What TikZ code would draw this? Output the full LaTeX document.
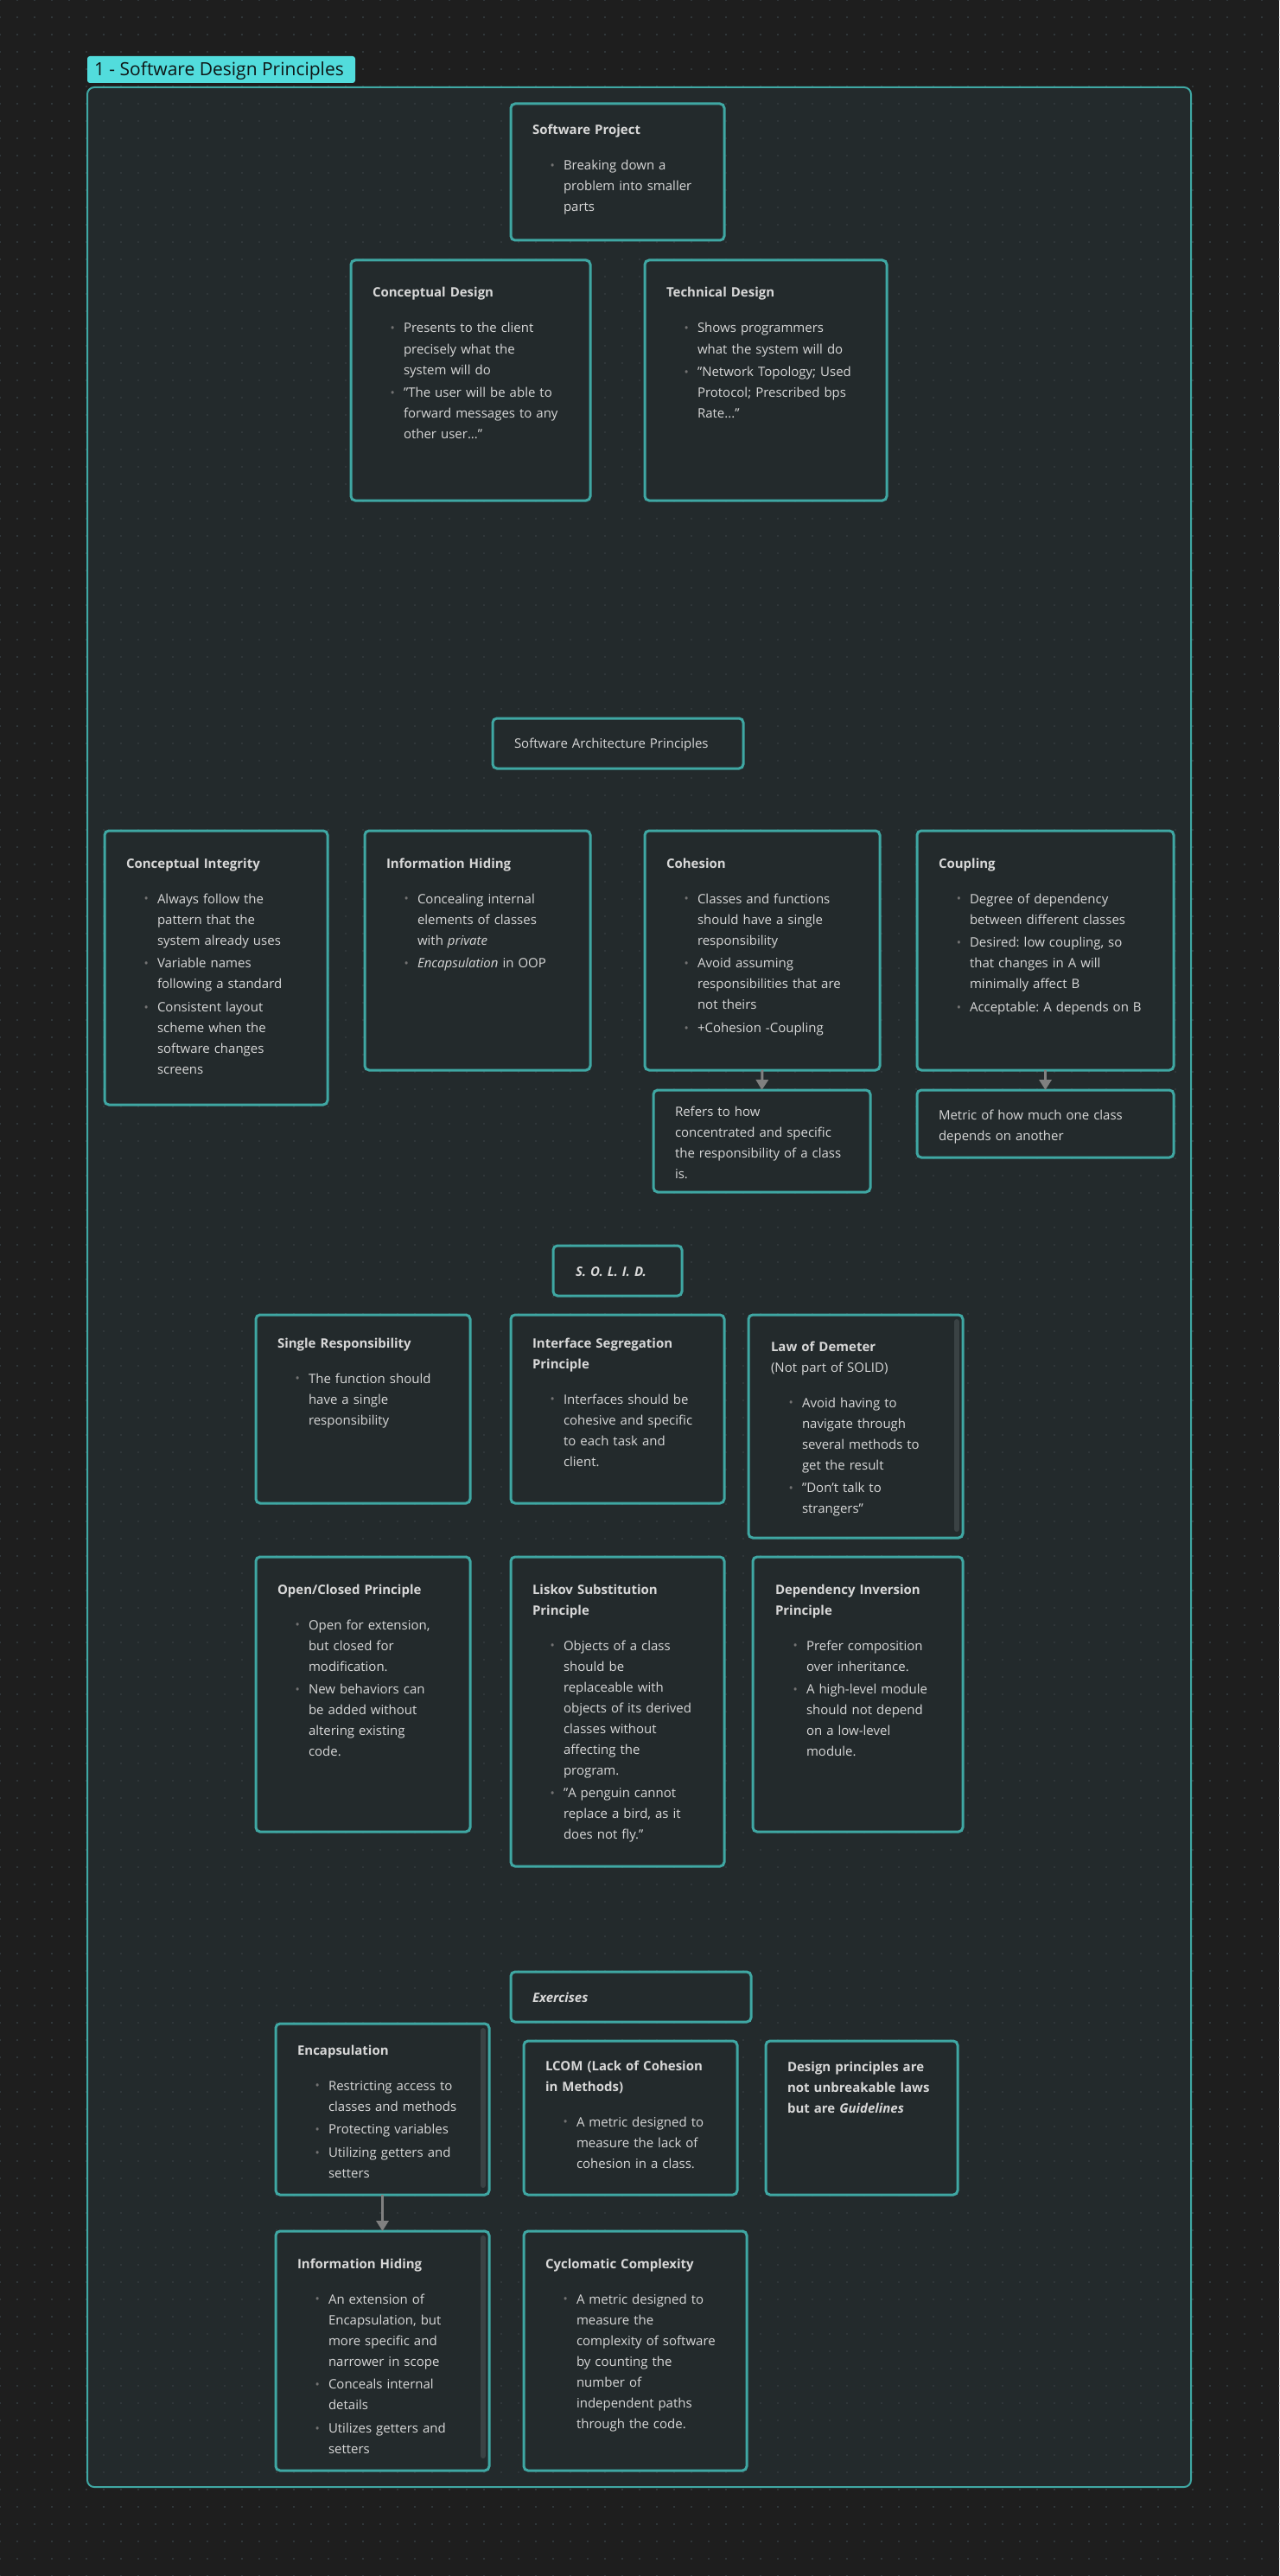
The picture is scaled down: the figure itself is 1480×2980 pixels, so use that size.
\documentclass[tikz,border=0pt]{standalone}
\usepackage{fontspec}
\setmainfont{Open Sans}
\usetikzlibrary{fit,arrows.meta,patterns}

\definecolor{pagebg}{HTML}{1E1E1E}
\definecolor{panelbg}{HTML}{232A2C}
\definecolor{edgeteal}{HTML}{3FA7A3}
\definecolor{tagfill}{HTML}{52DCDC}
\definecolor{tagtext}{HTML}{0E1616}
\definecolor{txt}{HTML}{D8D8D8}
\definecolor{bulletc}{HTML}{727272}
\definecolor{arrowc}{HTML}{808080}
\definecolor{scrollc}{HTML}{3A4244}
\definecolor{dotc}{HTML}{30373A}

\setlength\parindent{0pt}
\setlength\parskip{0pt}
\frenchspacing

% faint dot grid of the canvas
\pgfdeclarepatternformonly{dotgrid}{\pgfpoint{-1pt}{-1pt}}{\pgfpoint{1pt}{1pt}}{\pgfpoint{10pt}{10pt}}%
  {\pgfpathrectangle{\pgfpoint{-0.4pt}{-0.4pt}}{\pgfpoint{0.8pt}{0.8pt}}\pgfusepath{fill}}

% card heading, plain first line, bullet item (lines of an item hang under its text)
\newcommand\cardtitle[1]{\rule{0pt}{9pt}\textbf{#1}\par\vspace{7.1pt}}
\newcommand\firstline{\rule{0pt}{9pt}}
\newcommand\bitem[1]{\par\vspace{1.4pt}%
  {\let\\\newline\hangindent=18pt\hangafter=0\noindent
   \llap{\textcolor{bulletc}{\raisebox{0.3pt}{\fontsize{7}{7}\selectfont\textbullet}}\hspace{5pt}}%
   #1\par}}

\tikzset{
  card/.style={draw=edgeteal, line width=1.5pt, rounded corners=2.5pt, fill=panelbg,
    inner sep=0pt, outer sep=0pt},
  body/.style={anchor=north west, inner sep=0pt, outer sep=0pt, text width=200pt,
    align=left, text=txt, font=\fontsize{7.5}{12}\selectfont},
  conn/.style={draw=arrowc, line width=1.5pt, -{Triangle[width=7pt,length=6pt]}},
  scrollbar/.style={draw=scrollc, line width=3pt, line cap=round},
}

\begin{document}
\begin{tikzpicture}[x=0.5pt,y=-0.5pt]
\useasboundingbox (0,0) rectangle (1480,2980);
\fill[pagebg] (0,0) rectangle (1480,2980);

% group panel
\fill[panelbg, rounded corners=4pt] (101,101) rectangle (1378,2877);
\fill[pattern=dotgrid, pattern color=dotc] (0,0) rectangle (1480,2980);
\node[draw=edgeteal, line width=1pt, rounded corners=4pt, inner sep=0pt,
  fit={(101,101) (1378,2877)}] (frame) {};

% group label
\node[fill=tagfill, rounded corners=1.5pt, inner sep=0pt, fit={(101,65) (411,96)}] (tag) {};
\node[anchor=west, inner sep=0pt, text=tagtext, font=\fontsize{10.5}{12}\selectfont]
  (tag-txt) at ([shift={(8,1)}]tag.west) {1 - Software Design Principles};

% ---- design levels
\node[card, fit={(591,120) (838,278)}] (sp) {};
\node[body] (sp-txt) at ([shift={(25,18)}]sp.north west) {\cardtitle{Software Project}
  \bitem{Breaking down a\\problem into smaller\\parts}};

\node[card, fit={(406,301) (683,579)}] (cd) {};
\node[body] (cd-txt) at ([shift={(25,25)}]cd.north west) {\cardtitle{Conceptual Design}
  \bitem{Presents to the client\\precisely what the\\system will do}
  \bitem{"The user will be able to\\forward messages to any\\other user..."}};

\node[card, fit={(746,301) (1026,579)}] (td) {};
\node[body] (td-txt) at ([shift={(25,25)}]td.north west) {\cardtitle{Technical Design}
  \bitem{Shows programmers\\what the system will do}
  \bitem{"Network Topology; Used\\Protocol; Prescribed bps\\Rate..."}};

% ---- architecture principles
\node[card, fit={(570,831) (860,889)}] (sap) {};
\node[body] (sap-txt) at ([shift={(25,16)}]sap.north west) {\firstline Software Architecture Principles};

\node[card, fit={(121,961) (379,1278)}] (ci) {};
\node[body] (ci-txt) at ([shift={(25,25)}]ci.north west) {\cardtitle{Conceptual Integrity}
  \bitem{Always follow the\\pattern that the\\system already uses}
  \bitem{Variable names\\following a standard}
  \bitem{Consistent layout\\scheme when the\\software changes\\screens}};

\node[card, fit={(422,961) (683,1238)}] (ih) {};
\node[body] (ih-txt) at ([shift={(25,25)}]ih.north west) {\cardtitle{Information Hiding}
  \bitem{Concealing internal\\elements of classes\\with \textit{private}}
  \bitem{\textit{Encapsulation} in OOP}};

\node[card, fit={(746,961) (1018,1238)}] (coh) {};
\node[body] (coh-txt) at ([shift={(25,25)}]coh.north west) {\cardtitle{Cohesion}
  \bitem{Classes and functions\\should have a single\\responsibility}
  \bitem{Avoid assuming\\responsibilities that are\\not theirs}
  \bitem{+Cohesion -Coupling}};

\node[card, fit={(1061,961) (1358,1238)}] (cpl) {};
\node[body] (cpl-txt) at ([shift={(25,25)}]cpl.north west) {\cardtitle{Coupling}
  \bitem{Degree of dependency\\between different classes}
  \bitem{Desired: low coupling, so\\that changes in A will\\minimally affect B}
  \bitem{Acceptable: A depends on B}};

\node[card, fit={(756,1261) (1007,1379)}] (cohn) {};
\node[body] (cohn-txt) at ([shift={(25,12)}]cohn.north west) {\firstline Refers to how\\concentrated and specific\\the responsibility of a class\\is.};

\node[card, fit={(1061,1261) (1358,1339)}] (cpln) {};
\node[body] (cpln-txt) at ([shift={(25,16)}]cpln.north west) {\firstline Metric of how much one class\\depends on another};

\draw[conn] (coh.south) -- (cohn.north);
\draw[conn] (cpl.south) -- (cpln.north);

% ---- SOLID
\node[card, fit={(640,1441) (789,1499)}] (solid) {};
\node[body] (solid-txt) at ([shift={(26,17)}]solid.north west) {\firstline\textbf{\textit{S. O. L. I. D.}}};

\node[card, fit={(296,1521) (544,1739)}] (sr) {};
\node[body] (sr-txt) at ([shift={(25,20)}]sr.north west) {\cardtitle{Single Responsibility}
  \bitem{The function should\\have a single\\responsibility}};

\node[card, fit={(591,1521) (838,1739)}] (isp) {};
\node[body] (isp-txt) at ([shift={(25,20)}]isp.north west) {\cardtitle{Interface Segregation\\Principle}
  \bitem{Interfaces should be\\cohesive and specific\\to each task and\\client.}};

\node[card, fit={(866,1521) (1114,1779)}] (lod) {};
\node[body] (lod-txt) at ([shift={(26,24)}]lod.north west) {\cardtitle{Law of Demeter\\\mdseries(Not part of SOLID)}
  \bitem{Avoid having to\\navigate through\\several methods to\\get the result}
  \bitem{"Don't talk to\\strangers"}};
\draw[scrollbar] ([shift={(-7,8)}]lod.north east) -- ([shift={(-7,-10)}]lod.south east);

\node[card, fit={(296,1801) (544,2119)}] (ocp) {};
\node[body] (ocp-txt) at ([shift={(25,25)}]ocp.north west) {\cardtitle{Open/Closed Principle}
  \bitem{Open for extension,\\but closed for\\modification.}
  \bitem{New behaviors can\\be added without\\altering existing\\code.}};

\node[card, fit={(591,1801) (838,2159)}] (lsp) {};
\node[body] (lsp-txt) at ([shift={(25,25)}]lsp.north west) {\cardtitle{Liskov Substitution\\Principle}
  \bitem{Objects of a class\\should be\\replaceable with\\objects of its derived\\classes without\\affecting the\\program.}
  \bitem{"A penguin cannot\\replace a bird, as it\\does not fly."}};

\node[card, fit={(871,1801) (1114,2119)}] (dip) {};
\node[body] (dip-txt) at ([shift={(26,25)}]dip.north west) {\cardtitle{Dependency Inversion\\Principle}
  \bitem{Prefer composition\\over inheritance.}
  \bitem{A high-level module\\should not depend\\on a low-level\\module.}};

% ---- exercises
\node[card, fit={(591,2281) (869,2339)}] (ex) {};
\node[body] (ex-txt) at ([shift={(25,17)}]ex.north west) {\firstline\textbf{\textit{Exercises}}};

\node[card, fit={(319,2341) (566,2539)}] (enc) {};
\node[body] (enc-txt) at ([shift={(25,18)}]enc.north west) {\cardtitle{Encapsulation}
  \bitem{Restricting access to\\classes and methods}
  \bitem{Protecting variables}
  \bitem{Utilizing getters and\\setters}};
\draw[scrollbar] ([shift={(-7,8)}]enc.north east) -- ([shift={(-7,-11)}]enc.south east);

\node[card, fit={(606,2361) (853,2539)}] (lcom) {};
\node[body] (lcom-txt) at ([shift={(25,16)}]lcom.north west) {\cardtitle{LCOM (Lack of Cohesion\\in Methods)}
  \bitem{A metric designed to\\measure the lack of\\cohesion in a class.}};

\node[card, fit={(886,2361) (1108,2539)}] (dp) {};
\node[body] (dp-txt) at ([shift={(25,17)}]dp.north west) {\firstline\textbf{Design principles are\\not unbreakable laws\\but are \textit{Guidelines}}};

\node[card, fit={(319,2581) (566,2858)}] (ih2) {};
\node[body] (ih2-txt) at ([shift={(25,25)}]ih2.north west) {\cardtitle{Information Hiding}
  \bitem{An extension of\\Encapsulation, but\\more specific and\\narrower in scope}
  \bitem{Conceals internal\\details}
  \bitem{Utilizes getters and\\setters}};
\draw[scrollbar] ([shift={(-7,8)}]ih2.north east) -- ([shift={(-7,-17)}]ih2.south east);

\node[card, fit={(606,2581) (864,2858)}] (cc) {};
\node[body] (cc-txt) at ([shift={(25,25)}]cc.north west) {\cardtitle{Cyclomatic Complexity}
  \bitem{A metric designed to\\measure the\\complexity of software\\by counting the\\number of\\independent paths\\through the code.}};

\draw[conn] (enc.south) -- (ih2.north);
\end{tikzpicture}
\end{document}
